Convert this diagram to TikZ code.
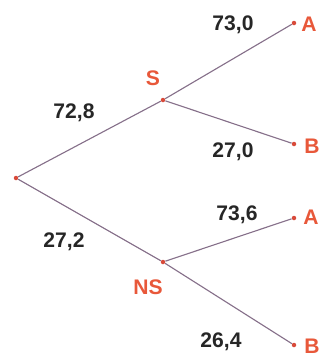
\documentclass[tikz,border=0pt]{standalone}
\usepackage{fontspec}
\newfontfamily\lblfont{Liberation Sans}
\definecolor{branchcol}{HTML}{86708A}
\definecolor{dotcol}{HTML}{D84A3A}
\definecolor{namecol}{HTML}{E8583A}
\tikzset{
  dot/.style={circle, fill=dotcol, inner sep=0pt, minimum size=3.2pt},
  branch/.style={draw=branchcol, line width=0.8pt},
  prob/.style={font=\lblfont\bfseries\fontsize{15}{17}\selectfont, text=black!85},
  event/.style={font=\lblfont\bfseries\fontsize{15}{17}\selectfont, text=namecol}
}
\begin{document}
\begin{tikzpicture}[x=0.025cm, y=-0.025cm]
\useasboundingbox (0,0) rectangle (323,357);
% tree points
\node[dot] (root) at (16,178) {};
\node[dot] (s) at (163,100) {};
\node[dot] (ns) at (163,262) {};
\node[dot] (sa) at (294,23) {};
\node[dot] (sb) at (294,144) {};
\node[dot] (nsa) at (294,218) {};
\node[dot] (nsb) at (294,345) {};
% branches
\draw[branch] (root) -- (s);
\draw[branch] (root) -- (ns);
\draw[branch] (s) -- (sa);
\draw[branch] (s) -- (sb);
\draw[branch] (ns) -- (nsa);
\draw[branch] (ns) -- (nsb);
% names
\node[event] (lS) at (153,78) {S};
\node[event] (lNS) at (148,287) {NS};
\node[event] (lSA) at (309,24) {A};
\node[event] (lSB) at (312,146) {B};
\node[event] (lNSA) at (311,217) {A};
\node[event] (lNSB) at (312,346) {B};
% values
\node[prob] (p1) at (74,113) {72,8};
\node[prob] (p2) at (64,242) {27,2};
\node[prob] (p3) at (233,25) {73,0};
\node[prob] (p4) at (233,152) {27,0};
\node[prob] (p5) at (237,215) {73,6};
\node[prob] (p6) at (221,342) {26,4};
\end{tikzpicture}
\end{document}
